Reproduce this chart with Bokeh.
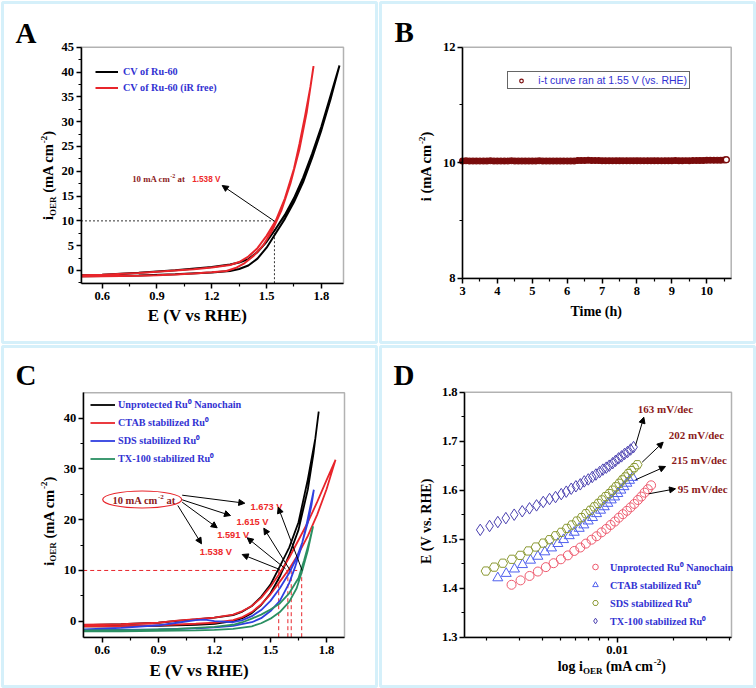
import math
from bokeh.plotting import figure
from bokeh.models import (Range1d, Label, Arrow, NormalHead, Legend, LegendItem,
                          BoxAnnotation, FixedTicker, NumeralTickFormatter)
from bokeh.layouts import row, column
from bokeh.embed import file_html
from bokeh.resources import INLINE

# ------------------------------------------------------------------ data
# Panel A : CV loops (forward scan then backward scan)
A_E_BLACK = [0.484, 0.6, 0.8, 1.0, 1.2, 1.3, 1.35, 1.4, 1.45, 1.5, 1.55, 1.6, 1.65, 1.7, 1.75, 1.8, 1.85, 1.899,
             1.899, 1.85, 1.8, 1.75, 1.7, 1.65, 1.6, 1.55, 1.5, 1.45, 1.4, 1.35, 1.3, 1.2, 1.0, 0.8, 0.6, 0.484]
A_I_BLACK = [-1.15, -1.1, -1.0, -0.75, -0.4, -0.1, 0.3, 1.0, 2.4, 4.6, 7.5, 10.4, 13.8, 17.8, 22.8, 28.3, 34.5, 41.3,
             41.3, 35.2, 29.0, 23.6, 18.7, 14.6, 11.2, 8.4, 5.8, 3.7, 2.3, 1.6, 1.2, 0.7, 0.05, -0.45, -0.85, -0.95]
A_E_RED = [0.484, 0.6, 0.8, 0.9, 1.0, 1.1, 1.2, 1.28, 1.33, 1.38, 1.43, 1.48, 1.53, 1.58, 1.63, 1.68, 1.72, 1.757,
           1.757, 1.74, 1.71, 1.68, 1.65, 1.6, 1.55, 1.5, 1.45, 1.4, 1.35, 1.3, 1.2, 1.1, 1.0, 0.9, 0.8, 0.6, 0.484]
A_I_RED = [-1.2, -1.15, -1.05, -0.95, -0.8, -0.6, -0.35, -0.1, 0.5, 1.5, 3.0, 5.0, 8.0, 12.0, 17.5, 24.5, 32.0, 41.2,
           41.2, 37.0, 31.0, 25.5, 20.5, 14.5, 10.0, 7.0, 4.5, 2.8, 1.7, 1.1, 0.6, 0.25, 0.0, -0.25, -0.5, -0.85, -0.95]
A_LABELS = ["CV of Ru-60", "CV of Ru-60 (iR free)"]
A_E10 = 1.543
A_I10 = 10
A_XTICKS = [0.6, 0.9, 1.2, 1.5, 1.8]
A_XMINOR = [0.75, 1.05, 1.35, 1.65]
A_YTICKS = [0, 5, 10, 15, 20, 25, 30, 35, 40, 45]
A_YMINOR = [-2.5, 2.5, 7.5, 12.5, 17.5, 22.5, 27.5, 32.5, 37.5, 42.5]

# Panel B : chronoamperometry at 1.55 V
B_T = [3.0, 3.1, 3.2, 3.3, 3.4, 3.5, 3.6, 3.7, 3.8, 3.9,
       4.0, 4.1, 4.2, 4.3, 4.4, 4.5, 4.6, 4.7, 4.8, 4.9,
       5.0, 5.1, 5.2, 5.3, 5.4, 5.5, 5.6, 5.7, 5.8, 5.9,
       6.0, 6.1, 6.2, 6.3, 6.4, 6.5, 6.6, 6.7, 6.8, 6.9,
       7.0, 7.1, 7.2, 7.3, 7.4, 7.5, 7.6, 7.7, 7.8, 7.9,
       8.0, 8.1, 8.2, 8.3, 8.4, 8.5, 8.6, 8.7, 8.8, 8.9,
       9.0, 9.1, 9.2, 9.3, 9.4, 9.5, 9.6, 9.7, 9.8, 9.9,
       10.0, 10.1, 10.2, 10.3, 10.4, 10.5, 10.56]
B_I = [10.03, 10.032, 10.029, 10.031, 10.03, 10.028, 10.031, 10.03, 10.032, 10.029,
       10.03, 10.031, 10.029, 10.03, 10.032, 10.03, 10.028, 10.031, 10.03, 10.029,
       10.031, 10.03, 10.032, 10.029, 10.03, 10.031, 10.028, 10.03, 10.031, 10.03,
       10.029, 10.031, 10.03, 10.038, 10.04, 10.039, 10.041, 10.038, 10.037, 10.036,
       10.035, 10.034, 10.035, 10.033, 10.034, 10.035, 10.033, 10.034, 10.032, 10.033,
       10.034, 10.032, 10.033, 10.034, 10.033, 10.035, 10.034, 10.033, 10.035, 10.034,
       10.035, 10.036, 10.034, 10.035, 10.036, 10.035, 10.037, 10.036, 10.038, 10.039,
       10.042, 10.043, 10.041, 10.044, 10.043, 10.045, 10.05]
B_LABEL = "i-t curve ran at 1.55 V (vs. RHE)"
B_XTICKS = [3, 4, 5, 6, 7, 8, 9, 10]
B_XMINOR = [3.5, 4.5, 5.5, 6.5, 7.5, 8.5, 9.5, 10.5]
B_YTICKS = [8, 10, 12]
B_YMINOR = [9, 11]

# Panel C : CV loops of the four catalysts
C_E_BLACK = [0.5, 0.7, 0.9, 1.1, 1.2, 1.3, 1.35, 1.4, 1.45, 1.5, 1.55, 1.6, 1.65, 1.7, 1.73, 1.758,
             1.758, 1.74, 1.7, 1.65, 1.6, 1.55, 1.5, 1.45, 1.4, 1.35, 1.3, 1.2, 1.1, 1.0, 0.9, 0.7, 0.5]
C_I_BLACK = [-1.0, -1.0, -0.9, -0.7, -0.5, 0.0, 0.6, 1.6, 3.2, 5.5, 8.8, 13.0, 18.0, 26.0, 33.0, 41.3,
             41.3, 36.0, 28.0, 19.5, 14.5, 10.8, 7.2, 4.8, 3.0, 1.9, 1.2, 0.7, 0.35, 0.05, -0.3, -0.6, -0.8]
C_E_RED = [0.5, 0.7, 0.9, 1.1, 1.2, 1.3, 1.35, 1.4, 1.45, 1.5, 1.55, 1.6, 1.65, 1.7, 1.75, 1.8, 1.848,
           1.848, 1.8, 1.75, 1.7, 1.65, 1.6, 1.55, 1.5, 1.45, 1.4, 1.35, 1.3, 1.2, 1.1, 1.0, 0.9, 0.7, 0.5]
C_I_RED = [-1.0, -1.0, -0.8, -0.5, -0.3, 0.2, 0.8, 1.8, 3.3, 5.3, 7.8, 10.3, 13.3, 16.8, 21.0, 26.0, 31.8,
           31.8, 27.8, 23.5, 19.5, 16.0, 12.5, 9.5, 6.8, 4.6, 3.0, 2.0, 1.3, 0.7, 0.4, 0.1, -0.3, -0.6, -0.7]
C_E_BLUE = [0.5, 0.7, 0.9, 1.1, 1.2, 1.3, 1.4, 1.45, 1.5, 1.55, 1.6, 1.63, 1.66, 1.69, 1.71, 1.732,
            1.732, 1.72, 1.7, 1.67, 1.64, 1.6, 1.55, 1.5, 1.45, 1.4, 1.35, 1.3, 1.2, 1.15, 1.1, 1.0, 0.9, 0.7, 0.5]
C_I_BLUE = [-1.7, -1.7, -1.6, -1.4, -1.2, -0.9, -0.2, 0.6, 2.0, 4.0, 7.5, 10.5, 14.0, 18.5, 22.0, 25.9,
            25.9, 23.0, 19.5, 15.5, 12.5, 9.5, 6.5, 4.0, 2.2, 1.0, 0.2, -0.2, 0.0, 0.3, 0.2, -0.3, -0.8, -1.3, -1.6]
C_E_GREEN = [0.5, 0.7, 0.9, 1.1, 1.2, 1.3, 1.4, 1.45, 1.5, 1.55, 1.6, 1.64, 1.67, 1.7, 1.728,
             1.728, 1.71, 1.68, 1.65, 1.6, 1.55, 1.5, 1.45, 1.4, 1.35, 1.3, 1.2, 1.0, 0.8, 0.5]
C_I_GREEN = [-2.0, -2.0, -1.9, -1.8, -1.7, -1.5, -1.0, -0.4, 0.5, 1.8, 3.8, 6.5, 10.0, 14.0, 18.7,
             18.7, 16.0, 12.0, 8.5, 5.5, 3.5, 2.3, 1.3, 0.5, -0.2, -0.7, -1.1, -1.5, -1.7, -1.8]
C_LABELS = ["Unprotected Ru\u2070 Nanochain", "CTAB stabilized Ru\u2070",
            "SDS stabilized Ru\u2070", "TX-100 stabilized Ru\u2070"]
C_E10 = [1.544, 1.593, 1.611, 1.667]
C_E10_TEXT = ["1.673 V", "1.615 V", "1.591 V", "1.538 V"]
C_I10 = 10
C_XTICKS = [0.6, 0.9, 1.2, 1.5, 1.8]
C_XMINOR = [0.75, 1.05, 1.35, 1.65]
C_YTICKS = [0, 10, 20, 30, 40]
C_YMINOR = [5, 15, 25, 35]

# Panel D : Tafel plots
D_X_UN = [0.002721, 0.00304, 0.003396, 0.003763, 0.004151, 0.004565, 0.004994, 0.005443, 0.005889, 0.006341,
          0.006793, 0.007287, 0.007751, 0.008241, 0.008733, 0.009209, 0.00971, 0.0102, 0.01071, 0.01125,
          0.01178, 0.01233, 0.01289, 0.01344, 0.01399, 0.01456, 0.01516]
D_Y_UN = [1.407, 1.416, 1.425, 1.434, 1.443, 1.451, 1.459, 1.467, 1.476, 1.483,
          1.491, 1.499, 1.506, 1.514, 1.521, 1.529, 1.536, 1.544, 1.551, 1.558,
          1.565, 1.572, 1.580, 1.587, 1.595, 1.602, 1.610]
D_X_CTAB = [0.002298, 0.002549, 0.002822, 0.003115, 0.003438, 0.003763, 0.0041, 0.004453, 0.004814, 0.005161,
            0.005537, 0.005889, 0.006262, 0.006627, 0.006997, 0.007377, 0.007751, 0.008141, 0.008519, 0.008905,
            0.009288, 0.009674, 0.01007, 0.01045, 0.01085, 0.01125, 0.01163, 0.01207]
D_Y_CTAB = [1.421, 1.430, 1.439, 1.448, 1.457, 1.465, 1.474, 1.482, 1.491, 1.499,
            1.507, 1.514, 1.522, 1.529, 1.537, 1.544, 1.552, 1.559, 1.566, 1.573,
            1.580, 1.586, 1.593, 1.600, 1.607, 1.614, 1.620, 1.626]
D_X_SDS = [0.001984, 0.002199, 0.002444, 0.002731, 0.003029, 0.003343, 0.003671, 0.004021, 0.004345, 0.004677,
           0.005018, 0.005374, 0.005717, 0.006081, 0.006442, 0.006793, 0.007172, 0.007535, 0.007915, 0.008273,
           0.008659, 0.009062, 0.009438, 0.009829, 0.01025, 0.01063, 0.01104, 0.01145, 0.01189, 0.01233, 0.0128]
D_Y_SDS = [1.435, 1.443, 1.451, 1.459, 1.467, 1.476, 1.484, 1.492, 1.499, 1.507,
           1.514, 1.522, 1.529, 1.537, 1.544, 1.552, 1.559, 1.566, 1.573, 1.580,
           1.587, 1.593, 1.600, 1.607, 1.614, 1.621, 1.627, 1.634, 1.640, 1.646, 1.652]
D_X_TX = [0.001851, 0.002076, 0.002298, 0.002537, 0.002812, 0.003105, 0.003396, 0.003702, 0.004021, 0.004345,
          0.004677, 0.005018, 0.005337, 0.005675, 0.006007, 0.006341, 0.006661, 0.006997, 0.007349, 0.007685,
          0.008044, 0.008375, 0.008733, 0.009062, 0.009438, 0.009793, 0.01016, 0.01054, 0.01094, 0.01135,
          0.01178, 0.01222]
D_Y_TX = [1.519, 1.527, 1.535, 1.543, 1.550, 1.557, 1.563, 1.569, 1.576, 1.582,
          1.586, 1.592, 1.597, 1.603, 1.608, 1.612, 1.618, 1.622, 1.627, 1.632,
          1.637, 1.642, 1.646, 1.650, 1.655, 1.660, 1.665, 1.669, 1.674, 1.678,
          1.683, 1.688]
D_LABELS = C_LABELS
D_SLOPES = ["163 mV/dec", "202 mV/dec", "215 mV/dec", "95 mV/dec"]
D_XTICKS = [0.01]
D_XMINOR = [0.002, 0.003, 0.004, 0.005, 0.006, 0.007, 0.008, 0.009, 0.02, 0.03, 0.04]
D_YTICKS = [1.3, 1.4, 1.5, 1.6, 1.7, 1.8]
D_YMINOR = [1.35, 1.45, 1.55, 1.65, 1.75]

# ------------------------------------------------------------------ style
W, H = 378, 344
SERIF, SANS = "Liberation Serif", "Liberation Sans"
PANEL_BLUE = "#74CDEE"
LEG_BLUE = "#3232D2"
DKRED = "#8B1A1A"
TXT_RED = "#EE2A2A"
B_RED = "#7A0C0C"
C_BLACK, C_RED, C_BLUE, C_GREEN = "#000000", "#E8252B", "#2F3FE0", "#2A8F62"

TB = {' ': 250, '(': 333, ')': 333, '-': 333, '.': 250, '/': 278, 'A': 722, 'B': 667, 'C': 722, 'D': 722,
      'E': 667, 'H': 778, 'N': 722, 'O': 778, 'R': 722, 'S': 556, 'T': 667, 'U': 722, 'V': 722, 'X': 722,
      'a': 500, 'b': 556, 'c': 444, 'd': 556, 'e': 444, 'f': 333, 'g': 500, 'h': 556, 'i': 278, 'l': 278,
      'm': 833, 'n': 556, 'o': 500, 'p': 556, 'r': 444, 's': 389, 't': 333, 'u': 556, 'v': 500, 'z': 444}
SB = {' ': 278, '.': 278, 'V': 667}
MID = 0.34   # distance from alphabetic baseline to the text middle, in em


def tw(t, size, table, default):
    return sum(table.get(ch, default) for ch in t) / 1000.0 * size


def make_panel(L, T, FW, FH, bx, by, logx=False):
    """The frame covers the whole canvas; the axes box (bx, by) sits at canvas (L, T, FW, FH)."""
    if logx:
        a0, a1 = math.log10(bx[0]), math.log10(bx[1])
        k = (a1 - a0) / FW
        xr = (10 ** (a0 - L * k), 10 ** (a1 + (W - L - FW) * k))
    else:
        k = (bx[1] - bx[0]) / FW
        xr = (bx[0] - L * k, bx[1] + (W - L - FW) * k)
    ky = (by[1] - by[0]) / FH
    yr = (by[0] - (H - T - FH) * ky, by[1] + T * ky)
    p = figure(width=W, height=H, min_border=0, min_border_left=0, min_border_right=0,
               min_border_top=0, min_border_bottom=0, x_range=Range1d(*xr), y_range=Range1d(*yr),
               x_axis_type="log" if logx else "linear", output_backend="svg", toolbar_location=None)
    p.title.visible = False
    p.grid.visible = False
    p.outline_line_color = None
    p.background_fill_color = "white"
    p.border_fill_color = "white"
    p.xaxis.fixed_location = by[0]
    p.xaxis.bounds = bx
    p.yaxis.fixed_location = bx[0]
    p.yaxis.bounds = by
    p.add_layout(BoxAnnotation(left=bx[0], right=bx[1], bottom=by[0], top=by[1], fill_alpha=0,
                               line_color="black", line_width=1.5))
    p.add_layout(BoxAnnotation(left=2, right=W - 2, bottom=2, top=H - 2,
                               left_units="screen", right_units="screen",
                               top_units="screen", bottom_units="screen",
                               fill_alpha=0, line_color=PANEL_BLUE, line_width=3))
    g = dict(L=0, T=0, FW=W, FH=H, xr=xr, yr=yr, logx=logx, bx=bx, by=by)
    return p, g


def style_axes(p, xt, xm, yt, ym):
    p.xaxis.ticker = FixedTicker(ticks=xt, minor_ticks=xm)
    p.yaxis.ticker = FixedTicker(ticks=yt, minor_ticks=ym)
    for ax in p.xaxis + p.yaxis:
        ax.major_label_text_font = SERIF
        ax.major_label_text_font_style = "bold"
        ax.major_label_text_font_size = "12.5px"
        ax.major_label_text_color = "black"
        ax.axis_line_width = 1.5
        ax.major_tick_line_width = 1.5
        ax.minor_tick_line_width = 1.2
        ax.major_tick_out = 5
        ax.major_tick_in = 0
        ax.minor_tick_out = 3
        ax.minor_tick_in = 0
    for ax in p.xaxis:
        ax.major_label_standoff = 4
    for ax in p.yaxis:
        ax.major_label_standoff = 2


def cx2x(g, cx):
    f = (cx - g['L']) / g['FW']
    x0, x1 = g['xr']
    if g['logx']:
        return 10 ** (math.log10(x0) + f * (math.log10(x1) - math.log10(x0)))
    return x0 + f * (x1 - x0)


def cy2y(g, cy):
    f = (cy - g['T']) / g['FH']
    y0, y1 = g['yr']
    return y1 - f * (y1 - y0)


def ref(g, xr_, yr_):
    return cx2x(g, xr_), cy2y(g, yr_)


def rich(p, g, pieces, xref, yref, anchor="left", vertical=False, font=SERIF,
         color="black", table=TB, default=500, style="bold"):
    """Draw text made of pieces (text, size, baseline shift); (xref, yref) is the baseline start."""
    widths = [tw(t, s, table, default) for t, s, _ in pieces]
    total = sum(widths)
    pos = -total / 2.0 if anchor == "center" else 0.0
    for (t, s, sh), w in zip(pieces, widths):
        lead = len(t) - len(t.lstrip())
        lw = tw(t[:lead], s, table, default)
        if vertical:
            cx, cy = xref + sh - MID * s, yref - (pos + lw)
        else:
            cx, cy = xref + pos + lw, yref + sh - MID * s
        p.add_layout(Label(x=cx2x(g, cx), y=cy2y(g, cy), text=t.strip(),
                           angle=math.pi / 2 if vertical else 0.0,
                           text_align="left", text_baseline="middle",
                           text_font=font, text_font_style=style,
                           text_font_size=f"{s:.2f}px", text_color=color))
        pos += w


def arrow(p, g, x0r, y0r, x1r, y1r, size=6):
    xs, ys = ref(g, x0r, y0r)
    xe, ye = ref(g, x1r, y1r)
    p.add_layout(Arrow(end=NormalHead(size=size, fill_color="black", line_color="black", line_width=1),
                       x_start=xs, y_start=ys, x_end=xe, y_end=ye, line_width=1, line_color="black"))


def legend_at(p, g, items, glyph_left_ref, row0_ref, h, s, gw, standoff, fsize,
              color, font=SERIF, style="bold", padding=0, border=None):
    n = len(items)
    lx = glyph_left_ref - g['L'] - padding
    top = row0_ref - g['T'] - h / 2.0 - padding
    height = n * h + (n - 1) * s + 2 * padding
    ly = g['FH'] - top - height
    leg = Legend(items=items, location=(lx, ly), orientation="vertical", padding=int(padding), margin=0,
                 spacing=int(s), glyph_width=int(gw), glyph_height=int(h), label_height=int(h),
                 label_standoff=int(standoff),
                 label_text_font=font, label_text_font_style=style,
                 label_text_font_size=f"{fsize:.2f}px", label_text_color=color,
                 background_fill_alpha=0 if border is None else 1, background_fill_color="white",
                 border_line_alpha=0 if border is None else 1,
                 border_line_color=border or "black", border_line_width=1)
    p.add_layout(leg)


def letter(p, g, ch, x, y):
    rich(p, g, [(ch, 29, 0)], x, y)


# ------------------------------------------------------------------ panel A
pA, gA = make_panel(80.5, 46.7, 262.5, 236, (0.484, 1.921), (-2.56, 45))
style_axes(pA, A_XTICKS, A_XMINOR, A_YTICKS, A_YMINOR)
pA.segment(x0=[gA['bx'][0]], y0=[A_I10], x1=[A_E10], y1=[A_I10], line_color="#333333",
           line_dash="2 2", line_width=1)
pA.segment(x0=[A_E10], y0=[gA['by'][0]], x1=[A_E10], y1=[A_I10], line_color="#333333",
           line_dash="2 2", line_width=1)
rA1 = pA.line(A_E_BLACK, A_I_BLACK, line_color=C_BLACK, line_width=2)
rA2 = pA.line(A_E_RED, A_I_RED, line_color=C_RED, line_width=2)
legend_at(pA, gA, [LegendItem(label=A_LABELS[0], renderers=[rA1]),
                   LegendItem(label=A_LABELS[1], renderers=[rA2])],
          95, 71.7, 13, 3, 23, 5, 10.2, LEG_BLUE)
arrow(pA, gA, 274, 220.7, 221.7, 185, size=6)
rich(pA, gA, [("10 mA cm", 8.8, 0), ("-2", 6, -3.5), (" at", 8.8, 0)], 131.7, 181.5, color=DKRED)
rich(pA, gA, [("1.538 V", 8.2, 0)], 191.7, 181.5, font=SANS, table=SB, default=556, color=TXT_RED)
rich(pA, gA, [("E (V vs RHE)", 17, 0)], 197, 320.5, anchor="center")
rich(pA, gA, [("i", 14.5, 0), ("OER", 9, 3), (" (mA cm", 14.5, 0), ("-2", 9, -6), (")", 14.5, 0)],
     52.5, 175, anchor="center", vertical=True)
letter(pA, gA, "A", 15, 42)

# ------------------------------------------------------------------ panel B
pB, gB = make_panel(84, 46.7, 268.7, 231, (3, 10.7), (8, 12))
style_axes(pB, B_XTICKS, B_XMINOR, B_YTICKS, B_YMINOR)
pB.scatter(B_T, B_I, marker="circle", size=5.8, line_color=B_RED, fill_color=B_RED, line_width=1.2)
rB = pB.scatter(B_T[-1:], B_I[-1:], marker="circle", size=5.8, line_color=B_RED,
                fill_color="white", line_width=1.2)
legend_at(pB, gB, [LegendItem(label=B_LABEL, renderers=[rB])],
          131.3, 82.7, 9, 0, 22, 6, 10.5, LEG_BLUE, font=SANS, style="normal",
          padding=2, border="#666666")
rich(pB, gB, [("Time (h)", 14, 0)], 217.8, 316, anchor="center")
rich(pB, gB, [("i (mA cm", 14.5, 0), ("-2", 9, -6), (")", 14.5, 0)], 52.5, 166, anchor="center",
     vertical=True)
letter(pB, gB, "B", 16, 41.7)

# ------------------------------------------------------------------ panel C
pC, gC = make_panel(82.7, 48.3, 261.3, 244.4, (0.498, 1.896), (-3.15, 45))
style_axes(pC, C_XTICKS, C_XMINOR, C_YTICKS, C_YMINOR)
pC.segment(x0=[gC['bx'][0]], y0=[C_I10], x1=[max(C_E10)], y1=[C_I10], line_color=C_RED,
           line_dash="4 3", line_width=1)
pC.segment(x0=C_E10, y0=[gC['by'][0]] * len(C_E10), x1=C_E10, y1=[C_I10] * len(C_E10),
           line_color=C_RED, line_dash="4 3", line_width=1)
rC1 = pC.line(C_E_BLACK, C_I_BLACK, line_color=C_BLACK, line_width=1.8)
rC2 = pC.line(C_E_RED, C_I_RED, line_color=C_RED, line_width=1.8)
rC3 = pC.line(C_E_BLUE, C_I_BLUE, line_color=C_BLUE, line_width=1.8)
rC4 = pC.line(C_E_GREEN, C_I_GREEN, line_color=C_GREEN, line_width=1.8)
legend_at(pC, gC, [LegendItem(label=l, renderers=[r]) for l, r in zip(C_LABELS, [rC1, rC2, rC3, rC4])],
          90, 60, 15, 3, 25, 3, 10.2, LEG_BLUE)
ex, ey = ref(gC, 141.7, 155)
pC.ellipse(x=[ex], y=[ey],
           width=[79 / gC['FW'] * (gC['xr'][1] - gC['xr'][0])],
           height=[17 / gC['FH'] * (gC['yr'][1] - gC['yr'][0])],
           fill_alpha=0, line_color=C_RED, line_width=1.2)
rich(pC, gC, [("10 mA cm", 10.5, 0), ("-2", 7, -4), (" at", 10.5, 0)], 143.3, 159.3,
     anchor="center", color=DKRED)
for txt, (lx_, by_) in zip(C_E10_TEXT, [(250, 165.5), (236, 181), (216.7, 193.3), (199.3, 210.3)]):
    rich(pC, gC, [(txt, 9.3, 0)], lx_, by_, font=SANS, table=SB, default=556, color=TXT_RED)
for a in [(181.7, 150.7, 244.3, 158.7), (181.7, 155.3, 230, 171), (181.7, 157.7, 216.7, 183.3),
          (177.3, 161, 201, 199.3), (301.7, 226, 277.7, 162.7), (289.3, 225.3, 263.3, 183.7),
          (285, 224.3, 246.7, 193.3), (279.3, 225, 241.7, 210)]:
    arrow(pC, gC, *a, size=6)
rich(pC, gC, [("E (V vs RHE)", 17, 0)], 198.7, 332, anchor="center")
rich(pC, gC, [("i", 14.5, 0), ("OER", 9, 3), (" (mA cm", 14.5, 0), ("-2", 9, -6), (")", 14.5, 0)],
     53, 176.7, anchor="center", vertical=True)
letter(pC, gC, "C", 15, 40.7)

# ------------------------------------------------------------------ panel D
pD, gD = make_panel(86, 47.7, 267, 245, (0.001525, 0.0408), (1.3, 1.8), logx=True)
style_axes(pD, D_XTICKS, D_XMINOR, D_YTICKS, D_YMINOR)
pD.xaxis.formatter = NumeralTickFormatter(format="0.00")
rD1 = pD.scatter(D_X_UN, D_Y_UN, marker="circle", size=9, line_color="#EE5A6E",
                 fill_alpha=0, line_width=1)
rD2 = pD.scatter(D_X_CTAB, D_Y_CTAB, marker="triangle", size=10, line_color="#5060EE",
                 fill_alpha=0, line_width=1)
rD3 = pD.scatter(D_X_SDS, D_Y_SDS, marker="hex", size=9.5, line_color="#8C9A35",
                 fill_alpha=0, line_width=1)
rD4 = pD.scatter(D_X_TX, D_Y_TX, marker="diamond", size=11.5,
                 line_color="#4A40B0", fill_alpha=0, line_width=1)
legend_at(pD, gD, [LegendItem(label=l, renderers=[r]) for l, r in zip(D_LABELS, [rD1, rD2, rD3, rD4])],
          210, 222.7, 15, 3, 14, 8, 10.2, LEG_BLUE)
for a in [(257, 101, 265.3, 72.7), (263.7, 117.7, 284.7, 97.7), (257, 135.3, 287, 122),
          (270.3, 149.3, 297, 144.3)]:
    arrow(pD, gD, *a, size=6)
for txt, (lx_, by_) in zip(D_SLOPES, [(259.3, 68.3), (290.3, 94.3), (293, 119.3), (299.3, 148.7)]):
    rich(pD, gD, [(txt, 11, 0)], lx_, by_, color=DKRED)
rich(pD, gD, [("log i", 14, 0), ("OER", 9, 3), (" (mA cm", 14, 0), ("-2", 9, -6), (")", 14, 0)],
     233.3, 327, anchor="center")
rich(pD, gD, [("E (V vs. RHE)", 14, 0)], 53, 176.7, anchor="center", vertical=True)
letter(pD, gD, "D", 15, 40)

layout = column(row(pA, pB), row(pC, pD))
open("out.html", "w").write(file_html(layout, INLINE))
